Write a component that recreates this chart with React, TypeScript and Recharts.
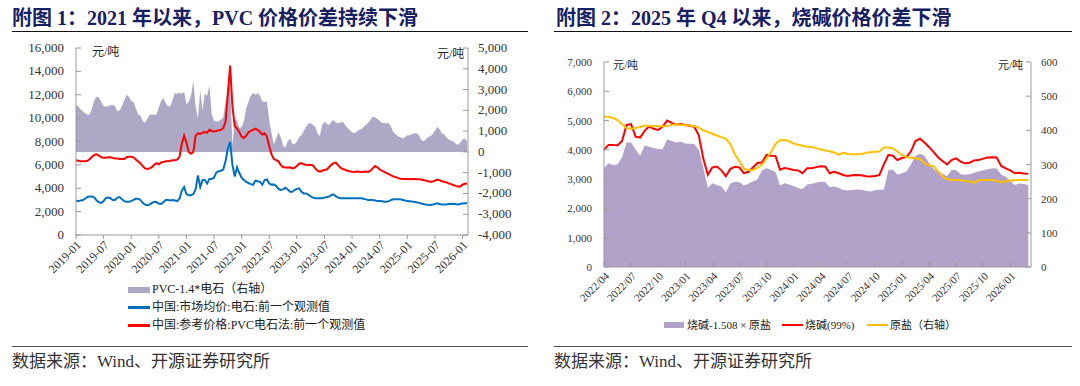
import React from "react"
import { ComposedChart, Area, Line, XAxis, YAxis } from "recharts"

// ---- 附图1: PVC (half-month steps from 2019-01) ----
const pvcTickLabels = [
  "2019-01", "2019-07", "2020-01", "2020-07", "2021-01", "2021-07", "2022-01", "2022-07",
  "2023-01", "2023-07", "2024-01", "2024-07", "2025-01", "2025-07", "2026-01",
]

// 中国:参考价格:PVC电石法
const pvcPrice = [
  6400, 6350, 6300, 6300, 6300, 6350, 6500, 6700, 6850, 6900, 6800, 6650, 6600, 6600, 6650, 6650, 6600, 6550, 6550, 6500, 6500, 6500, 6650, 6700,
  6700, 6650, 6450, 6300, 6150, 5900, 5700, 5650, 5700, 5800, 6000, 6150, 6050, 6200, 6250, 6300, 6300, 6350, 6400, 6400, 6450, 6700, 7800, 8500,
  7900, 7100, 6950, 7100, 8500, 8700, 8650, 8750, 8800, 8750, 9000, 8900, 8850, 8900, 8950, 9000, 9150, 9700, 12000, 14500, 11000, 9300, 9100, 8800,
  8400, 8300, 8500, 8800, 8900, 9000, 9100, 9000, 8800, 8600, 8700, 8400, 7600, 6900, 6500, 6400, 6300, 6000, 5800, 5800, 5750, 5800, 5700, 5750,
  5900, 6100, 6150, 6050, 6000, 5990, 6000, 5950, 5700, 5500, 5420, 5500, 5560, 5600, 5800, 6000, 6150, 6200, 5950, 5750, 5650, 5580, 5500, 5450,
  5420, 5400, 5430, 5420, 5400, 5420, 5430, 5400, 5500, 5700, 5900, 5800, 5600, 5500, 5400, 5300, 5200, 5100, 5000, 4950, 4880, 4820, 4800, 4790,
  4800, 4780, 4790, 4800, 4780, 4760, 4750, 4700, 4650, 4600, 4560, 4580, 4650, 4750, 4700, 4600, 4550, 4500, 4420, 4350, 4280, 4200, 4150, 4140,
  4300, 4380, 4400,
]

// 中国:市场均价:电石
const carbidePrice = [
  2900, 2900, 2950, 3000, 3100, 3250, 3300, 3300, 3200, 2950, 2800, 2750, 2900, 3150, 3200, 3150, 3000, 3000, 3200, 3250, 3050, 2900, 2850, 2850,
  2900, 3000, 3100, 3100, 3000, 2750, 2600, 2550, 2600, 2750, 2850, 2800, 2700, 2650, 2800, 3000, 3000, 2950, 3000, 2950, 2900, 3100, 3800, 4100,
  3500, 3400, 3400, 3500, 3900, 5100, 4100, 4700, 4700, 4400, 4800, 4800, 4900, 5350, 5450, 5500, 5600, 6300, 7400, 7950, 6000, 5000, 5800, 5300,
  4900, 4700, 4550, 4450, 4350, 4300, 4650, 4600, 4550, 4300, 4700, 4750, 4400, 4300, 4330, 4200, 3950, 3850, 3900, 4050, 3900, 3700, 3700, 3850,
  3950, 3990, 3700, 3560, 3560, 3450, 3300, 3200, 3150, 3140, 3140, 3150, 3200, 3250, 3280, 3400, 3480, 3300, 3200, 3140, 3150, 3140, 3150, 3140,
  3140, 3150, 3140, 3140, 3150, 3100, 3050, 3000, 3000, 3000, 2950, 2900, 2900, 2880, 2850, 2850, 2900, 3000, 3050, 3050, 3050, 3050, 3000, 2950,
  2900, 2880, 2860, 2850, 2800, 2750, 2700, 2650, 2600, 2580, 2570, 2600, 2650, 2710, 2650, 2620, 2620, 2620, 2650, 2680, 2650, 2650, 2620, 2650,
  2700, 2710, 2720,
]

// PVC-1.4*电石（右轴）
const pvcSpread = [
  2250, 2200, 2050, 1950, 1850, 1800, 1800, 2100, 2500, 2670, 2600, 2400, 2200, 2180, 2200, 2260, 2260, 2200, 1950, 2000, 2200, 2500, 2750, 2650,
  2450, 2400, 2100, 1800, 1750, 1500, 1400, 1600, 1790, 1800, 1790, 1800, 2150, 2450, 2590, 2350, 2200, 2180, 2500, 2830, 2800, 2850, 2800, 2900,
  2300, 2400, 2700, 3400, 2200, 1600, 2950, 2000, 2800, 2700, 3200, 1800, 1500, 1450, 1480, 1550, 1650, 2400, 3200, 3300, 300, 1600, 1500, 1150,
  1200, 1500, 2100, 2430, 2700, 2830, 2750, 2830, 2700, 2430, 2400, 2430, 1500, 900, 350, 650, 950, 700, 300, 200, 500, 650, 400, 350,
  500, 700, 800, 1000, 1200, 1350, 1375, 1300, 1200, 900, 750, 1300, 1450, 1350, 1300, 1450, 1530, 1400, 1375, 1420, 1450, 1300, 1150, 1050,
  950, 900, 980, 1050, 1100, 1200, 1290, 1400, 1550, 1700, 1650, 1600, 1500, 1400, 1375, 1380, 1375, 1200, 950, 850, 750, 700, 650, 700,
  800, 800, 850, 900, 900, 800, 600, 500, 600, 700, 750, 850, 1000, 1200, 1100, 900, 850, 700, 600, 550, 500, 400, 330, 450,
  600, 650, 500,
]

// ---- 附图2: 烧碱 (half-month steps from 2022-04) ----
const causticTickLabels = [
  "2022/04", "2022/07", "2022/10", "2023/01", "2023/04", "2023/07", "2023/10", "2024/01",
  "2024/04", "2024/07", "2024/10", "2025/01", "2025/04", "2025/07", "2025/10", "2026/01",
]

// 烧碱(99%)
const causticPrice = [
  4000, 4170, 4170, 4150, 4300, 4850, 4880, 4450, 4420, 4650, 4800, 4720, 4680, 4800, 5000, 4920, 4870, 4880, 4850, 4820, 4790, 4500, 3700, 3150,
  3400, 3430, 3300, 3100, 3350, 3420, 3400, 3200, 3250, 3400, 3550, 3570, 3830, 3800, 3790, 3320, 3380, 3350, 3310, 3300, 3200, 3370, 3370, 3410,
  3440, 3430, 3200, 3250, 3200, 3140, 3110, 3130, 3140, 3130, 3100, 3090, 3110, 3140, 3500, 3830, 3800, 3650, 3720, 3750, 3950, 4300, 4380, 4250,
  4100, 3930, 3750, 3620, 3500, 3650, 3710, 3600, 3540, 3560, 3640, 3650, 3700, 3740, 3745, 3740, 3450, 3370, 3300, 3200, 3220, 3190, 3180,
]

// 原盐（右轴）
const saltPrice = [
  440, 440, 436, 430, 418, 407, 405, 407, 410, 414, 413, 412, 412, 412, 413, 416, 418, 416, 415, 414, 412, 408, 400, 395,
  390, 385, 380, 375, 360, 330, 310, 288, 284, 284, 290, 300, 318, 336, 360, 371, 372, 368, 361, 358, 355, 352, 351, 348,
  344, 341, 339, 335, 329, 334, 331, 330, 330, 331, 334, 336, 337, 338, 350, 350, 347, 338, 328, 322, 320, 318, 316, 303,
  298, 295, 280, 266, 257, 255, 255, 254, 252, 250, 247, 254, 255, 255, 255, 252, 248, 250, 253, 254, 255, 255, 254,
]

// 烧碱-1.508×原盐
const causticSpread = [
  3370, 3540, 3480, 3500, 3750, 4250, 4250, 4000, 3800, 4150, 4110, 4060, 4030, 4020, 4360, 4300, 4250, 4280, 4220, 4210, 4200, 4000, 3400, 2700,
  2860, 2800, 2750, 2550, 2850, 2910, 2890, 2780, 2840, 2920, 3000, 3300, 3370, 3320, 3240, 2780, 2860, 2820, 2770, 2700, 2660, 2820, 2840, 2880,
  2910, 2900, 2720, 2750, 2700, 2630, 2610, 2630, 2650, 2640, 2600, 2580, 2620, 2640, 2650, 3300, 3330, 3150, 3200, 3260, 3500, 3800, 3870, 3790,
  3560, 3350, 3250, 3180, 3100, 3320, 3310, 3170, 3150, 3170, 3220, 3260, 3300, 3340, 3370, 3360, 3160, 3080, 2950, 2800, 2850, 2830, 2800,
]

const pvcRows = pvcPrice.map((v, i) => ({
  t: i / 2,
  pvc: v,
  carbide: carbidePrice[i],
  spread: pvcSpread[i],
}))

const causticRows = causticPrice.map((v, i) => ({
  t: i / 2,
  caustic: v,
  salt: saltPrice[i],
  spread: causticSpread[i],
}))

const SERIF = "'Liberation Serif', 'Times New Roman', 'Noto Sans CJK SC', serif"
const AXIS = "#999"
const fmt = (v: number) => v.toLocaleString("en-US")

// y tick with tick mark pointing into the plot
const InTickY = (props: any) => {
  const { x, y, payload, dir, gap, fontSize } = props
  const ax = x + dir * gap
  return (
    <g>
      <line x1={ax} x2={ax + dir * 5} y1={y} y2={y} stroke={AXIS} />
      <text x={x} y={y} dy={4} textAnchor={dir > 0 ? "end" : "start"} fontSize={fontSize} fill="#333" fontFamily={SERIF}>
        {fmt(payload.value)}
      </text>
    </g>
  )
}

const RotTick = (props: any) => {
  const { x, y, payload, labels, step, fontSize, inward } = props
  const label = labels[Math.round(payload.value / step)]
  return (
    <g>
      {inward && <line x1={x} x2={x} y1={y - 4} y2={y - 9} stroke={AXIS} />}
      <g transform={`translate(${x + 3},${y + 3}) rotate(-45)`}>
        <text x={0} y={0} dy={4} textAnchor="end" fontSize={fontSize} fill="#333" fontFamily={SERIF}>
          {label}
        </text>
      </g>
    </g>
  )
}

const abs = (left: number, top: number, extra: React.CSSProperties = {}): React.CSSProperties => ({
  position: "absolute",
  left,
  top,
  whiteSpace: "nowrap",
  ...extra,
})

const titleStyle: React.CSSProperties = {
  fontFamily: SERIF,
  fontWeight: 700,
  fontSize: 20,
  color: "#172063",
  lineHeight: "22px",
}

const sourceStyle: React.CSSProperties = {
  fontFamily: SERIF,
  fontSize: 17,
  color: "#333",
  lineHeight: "18px",
}

const legendText: React.CSSProperties = {
  fontFamily: SERIF,
  fontSize: 12,
  color: "#222",
  lineHeight: "14px",
}

export default function App() {
  const pvcTicks = pvcTickLabels.map((_, i) => i * 6)
  const causticTicks = causticTickLabels.map((_, i) => i * 3)

  return (
    <div style={{ position: "absolute", left: 0, top: 0, width: 1080, height: 386, background: "#fff", overflow: "hidden" }}>
      {/* titles */}
      <div style={abs(12, 7, titleStyle)}>附图 1：2021 年以来，PVC 价格价差持续下滑</div>
      <div style={abs(12, 31, { width: 516, height: 0, borderTop: "1.5px solid #111" })} />
      <div style={abs(556, 7, titleStyle)}>附图 2：2025 年 Q4 以来，烧碱价格价差下滑</div>
      <div style={abs(554, 31, { width: 518, height: 0, borderTop: "1.5px solid #111" })} />

      {/* left chart */}
      <ComposedChart
        width={540}
        height={285}
        data={pvcRows}
        margin={{ top: 48, right: 0, left: 0, bottom: 0 }}
        style={{ position: "absolute", left: 0, top: 0 }}
      >
        <XAxis
          dataKey="t"
          type="number"
          domain={[0, 85.2]}
          ticks={pvcTicks}
          interval={0}
          height={50}
          stroke={AXIS}
          tickSize={4}
          tickMargin={1}
          tick={<RotTick labels={pvcTickLabels} step={6} fontSize={12} />}
        />
        <YAxis
          yAxisId="l"
          domain={[0, 16000]}
          ticks={[0, 2000, 4000, 6000, 8000, 10000, 12000, 14000, 16000]}
          interval={0}
          width={76}
          stroke={AXIS}
          tickLine={false}
          tickSize={0}
          tickMargin={12}
          tick={<InTickY dir={1} gap={12} fontSize={13} />}
        />
        <YAxis
          yAxisId="r"
          orientation="right"
          domain={[-4000, 5000]}
          ticks={[-4000, -3000, -2000, -1000, 0, 1000, 2000, 3000, 4000, 5000]}
          interval={0}
          width={72}
          stroke={AXIS}
          tickLine={false}
          tickSize={0}
          tickMargin={10}
          tick={<InTickY dir={-1} gap={10} fontSize={13} />}
        />
        <Area
          yAxisId="r"
          dataKey="spread"
          type="linear"
          baseValue={0}
          stroke="none"
          fill="#aca8c6"
          fillOpacity={1}
          isAnimationActive={false}
        />
        <Line yAxisId="l" dataKey="carbide" type="linear" stroke="#0070c0" strokeWidth={2} dot={false} isAnimationActive={false} />
        <Line yAxisId="l" dataKey="pvc" type="linear" stroke="#ff0000" strokeWidth={2} dot={false} isAnimationActive={false} />
      </ComposedChart>
      <div style={abs(92, 45, { ...legendText, fontSize: 12 })}>元/吨</div>
      <div style={abs(437, 47, { ...legendText, fontSize: 12 })}>元/吨</div>

      {/* left legend */}
      <div style={abs(128, 287, { width: 22, height: 6, background: "#aca8c6" })} />
      <div style={abs(152, 282, legendText)}>PVC-1.4*电石（右轴）</div>
      <div style={abs(128, 306, { width: 22, height: 3, background: "#0070c0" })} />
      <div style={abs(152, 300, legendText)}>中国:市场均价:电石:前一个观测值</div>
      <div style={abs(128, 324, { width: 22, height: 3, background: "#ff0000" })} />
      <div style={abs(152, 318, legendText)}>中国:参考价格:PVC电石法:前一个观测值</div>

      {/* right chart */}
      <ComposedChart
        width={540}
        height={315}
        data={causticRows}
        margin={{ top: 62, right: 0, left: 0, bottom: 0 }}
        style={{ position: "absolute", left: 540, top: 0 }}
      >
        <XAxis
          dataKey="t"
          type="number"
          domain={[0, 47.3]}
          ticks={causticTicks}
          interval={0}
          height={48}
          stroke={AXIS}
          tickLine={false}
          tickSize={0}
          tickMargin={4}
          tick={<RotTick labels={causticTickLabels} step={3} fontSize={11} inward />}
        />
        <YAxis
          yAxisId="l"
          domain={[0, 7000]}
          ticks={[0, 1000, 2000, 3000, 4000, 5000, 6000, 7000]}
          interval={0}
          width={64}
          stroke={AXIS}
          tickLine={false}
          tickSize={0}
          tickMargin={12}
          tick={<InTickY dir={1} gap={12} fontSize={11} />}
        />
        <YAxis
          yAxisId="r"
          orientation="right"
          domain={[0, 600]}
          ticks={[0, 100, 200, 300, 400, 500, 600]}
          interval={0}
          width={49}
          stroke={AXIS}
          tickLine={false}
          tickSize={0}
          tickMargin={10}
          tick={<InTickY dir={-1} gap={10} fontSize={11} />}
        />
        <Area
          yAxisId="l"
          dataKey="spread"
          type="linear"
          baseValue={0}
          stroke="none"
          fill="#b0a2c8"
          fillOpacity={1}
          isAnimationActive={false}
        />
        <Line yAxisId="l" dataKey="caustic" type="linear" stroke="#ff0000" strokeWidth={2} dot={false} isAnimationActive={false} />
        <Line yAxisId="r" dataKey="salt" type="linear" stroke="#ffc000" strokeWidth={2} dot={false} isAnimationActive={false} />
      </ComposedChart>
      <div style={abs(613, 58, { ...legendText, fontSize: 11 })}>元/吨</div>
      <div style={abs(998, 58, { ...legendText, fontSize: 11 })}>元/吨</div>

      {/* right legend */}
      <div style={abs(664, 322, { width: 20, height: 6, background: "#b0a2c8" })} />
      <div style={abs(687, 318, { ...legendText, fontSize: 11 })}>烧碱-1.508 × 原盐</div>
      <div style={abs(782, 324, { width: 21, height: 2, background: "#ff0000" })} />
      <div style={abs(805, 318, { ...legendText, fontSize: 11 })}>烧碱(99%)</div>
      <div style={abs(867, 324, { width: 21, height: 2, background: "#ffc000" })} />
      <div style={abs(890, 318, { ...legendText, fontSize: 11 })}>原盐（右轴）</div>

      {/* sources */}
      <div style={abs(12, 346, { width: 516, height: 0, borderTop: "1.5px solid #555" })} />
      <div style={abs(12, 353, sourceStyle)}>数据来源：Wind、开源证券研究所</div>
      <div style={abs(554, 346, { width: 518, height: 0, borderTop: "1.5px solid #555" })} />
      <div style={abs(554, 353, sourceStyle)}>数据来源：Wind、开源证券研究所</div>
    </div>
  )
}
